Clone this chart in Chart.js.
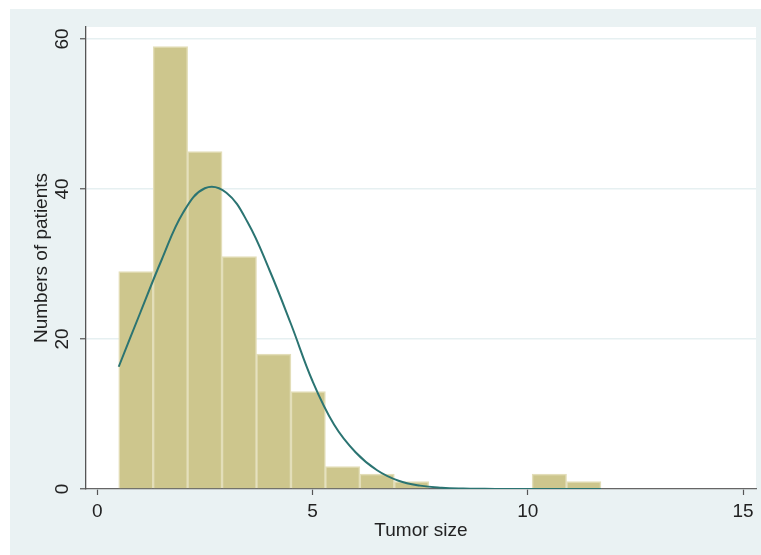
<!DOCTYPE html>
<html>
<head>
<meta charset="utf-8">
<script src="https://cdn.jsdelivr.net/npm/chart.js@4/dist/chart.umd.min.js"></script>
<style>
  html, body { margin: 0; padding: 0; background: #ffffff; }
  #wrap { width: 761px; height: 555px; }
</style>
</head>
<body>
<div id="wrap"><canvas id="histChart" width="761" height="555"></canvas></div>
<script>
// ===============================
// Tumor size histogram + normal curve
// ===============================

// bin centres (bin width 0.8, first bin 0.5 - 1.3)
let binCenters = [0.9, 1.7, 2.5, 3.3, 4.1, 4.9, 5.7, 6.5, 7.3, 8.1, 8.9, 9.7, 10.5, 11.3];
let patientCounts = [29, 59, 45, 31, 18, 13, 3, 2, 1, 0, 0, 0, 2, 1];

// normal density curve
let curveX = [0.5, 1, 1.5, 2, 2.5, 3, 3.5, 4, 4.5, 5, 5.5, 6, 6.5, 7, 7.5, 8, 8.5, 9, 9.5, 10, 10.5, 11, 11.7];
let curveY = [16.3, 23.5, 30.6, 36.9, 40.1, 39.5, 35.5, 29.2, 22.0, 14.4, 8.6, 4.9, 2.5, 1.1, 0.45, 0.17, 0.06, 0.02, 0, 0, 0, 0, 0];

let xTicks = [0, 5, 10, 15];
let yTicks = [0, 20, 40, 60];

let fontFamily = "'Liberation Sans', Arial, sans-serif";

let backgroundPlugin = {
    id: "stataBackground",
    beforeDraw(chart) {
        let ctx = chart.ctx;
        let area = chart.chartArea;
        ctx.save();
        ctx.fillStyle = "#ffffff";
        ctx.fillRect(0, 0, chart.width, chart.height);
        ctx.fillStyle = "#eaf2f3";
        ctx.fillRect(10, 9, chart.width - 10, chart.height - 9);
        ctx.fillStyle = "#ffffff";
        ctx.fillRect(area.left, area.top, area.right - area.left, area.bottom - area.top);
        ctx.restore();
    }
};

let ctx = document.getElementById("histChart").getContext("2d");

let histChart = new Chart(ctx, {

    data: {
        datasets: [
            {
                type: "line",
                data: curveX.map((x, i) => ({ x: x, y: curveY[i] })),
                borderColor: "#2b7472",
                borderWidth: 2,
                pointRadius: 0,
                tension: 0.4,
                fill: false,
                order: 0
            },
            {
                type: "bar",
                data: binCenters.map((x, i) => ({ x: x, y: patientCounts[i] })),
                backgroundColor: "#cdc68d",
                borderColor: "#e3deb9",
                borderWidth: 1.5,
                barPercentage: 1,
                categoryPercentage: 1,
                order: 1
            }
        ]
    },

    options: {
        responsive: false,
        animation: false,
        events: [],
        layout: {
            padding: { left: 0, right: 5, top: 27, bottom: 0 }
        },
        plugins: {
            legend: { display: false },
            tooltip: { enabled: false }
        },
        scales: {
            x: {
                type: "linear",
                min: -0.26,
                max: 15.3,
                offset: false,
                afterBuildTicks: (scale) => {
                    scale.ticks = xTicks.map(v => ({ value: v }));
                },
                afterFit: (scale) => {
                    scale.height = 66;
                },
                grid: {
                    offset: false,
                    drawOnChartArea: false,
                    drawTicks: true,
                    tickLength: 6,
                    tickColor: "#555555",
                    tickWidth: 1.2
                },
                border: {
                    display: true,
                    color: "#666666",
                    width: 1.3
                },
                ticks: {
                    color: "#222222",
                    padding: 5,
                    font: { family: fontFamily, size: 19 }
                },
                title: {
                    display: true,
                    text: "Tumor size",
                    color: "#222222",
                    padding: { top: 0, bottom: 15 },
                    font: { family: fontFamily, size: 19, lineHeight: 1 }
                }
            },
            y: {
                type: "linear",
                min: 0,
                max: 61.6,
                afterBuildTicks: (scale) => {
                    scale.ticks = yTicks.map(v => ({ value: v }));
                },
                afterFit: (scale) => {
                    scale.width = 86;
                },
                grid: {
                    color: "#e6f0f1",
                    lineWidth: 1.5,
                    drawTicks: true,
                    tickLength: 6,
                    tickColor: "#555555",
                    tickWidth: 1.2
                },
                border: {
                    display: true,
                    color: "#555555",
                    width: 1.3
                },
                ticks: {
                    color: "#222222",
                    minRotation: 90,
                    maxRotation: 90,
                    autoSkip: false,
                    crossAlign: "center",
                    padding: 7,
                    font: { family: fontFamily, size: 19 }
                },
                title: {
                    display: true,
                    text: "Numbers of patients",
                    color: "#222222",
                    padding: { top: 32, bottom: 0 },
                    font: { family: fontFamily, size: 19, lineHeight: 1 }
                }
            }
        }
    },

    plugins: [backgroundPlugin]

});
</script>
</body>
</html>
